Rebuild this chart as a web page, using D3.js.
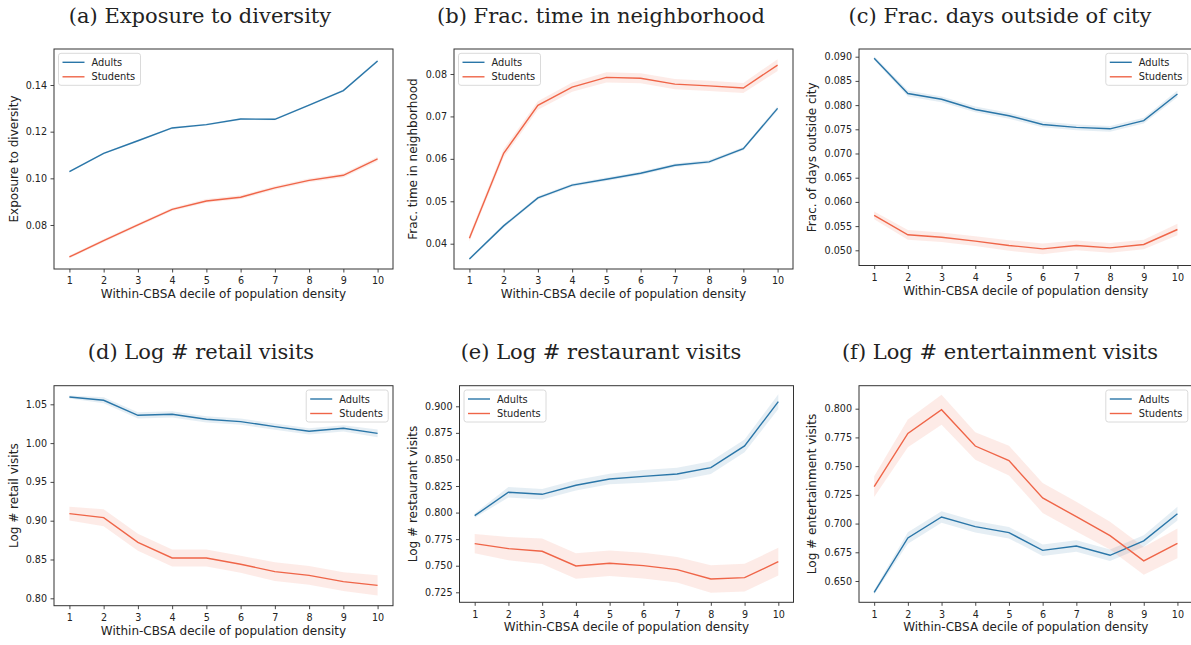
<!DOCTYPE html>
<html>
<head>
<meta charset="utf-8">
<script src="https://cdn.jsdelivr.net/npm/d3@7"></script>
<style>
  body { margin: 0; background: #fff; }
  svg text { fill: #222; }
  .tick text { font-family: "DejaVu Sans", sans-serif; font-size: 9.6px; fill: #222; }
  .tick line { stroke: #333; stroke-width: 0.9; }
  .frame { fill: none; stroke: #333; stroke-width: 1; }
  .axis-label { font-family: "DejaVu Sans", sans-serif; font-size: 12px; }
  .title { font-family: "DejaVu Serif", serif; font-size: 21px; }
  .legend text { font-family: "DejaVu Sans", sans-serif; font-size: 9.8px; }
</style>
</head>
<body>
<svg id="chart" width="1191" height="645"></svg>
<script>
const deciles = [1, 2, 3, 4, 5, 6, 7, 8, 9, 10];
const seriesNames = ["Adults", "Students"];

// (a) exposure to diversity
const diversityAdults = [0.1029, 0.1107, 0.1161, 0.1216, 0.1230, 0.1254, 0.1253, 0.1314, 0.1376, 0.1503];
const diversityStudents = [0.0663, 0.0733, 0.0801, 0.0867, 0.0903, 0.0919, 0.0959, 0.0991, 0.1013, 0.1083];
const diversityAdultsCi = [0.0004, 0.0004, 0.0004, 0.0004, 0.0004, 0.0004, 0.0004, 0.0004, 0.0005, 0.0006];
const diversityStudentsCi = [0.0006, 0.0007, 0.0007, 0.0007, 0.0008, 0.0008, 0.0008, 0.0008, 0.0009, 0.0010];
const diversityTicks = [0.08, 0.10, 0.12, 0.14];

// (b) frac. time in neighborhood
const neighborhoodAdults = [0.0364, 0.0442, 0.0508, 0.0538, 0.0552, 0.0566, 0.0585, 0.0593, 0.0624, 0.0719];
const neighborhoodStudents = [0.0413, 0.0613, 0.0726, 0.0769, 0.0792, 0.0790, 0.0776, 0.0772, 0.0767, 0.0821];
const neighborhoodAdultsCi = [0.0003, 0.0004, 0.0004, 0.0004, 0.0004, 0.0004, 0.0004, 0.0004, 0.0004, 0.0005];
const neighborhoodStudentsCi = [0.0008, 0.0010, 0.0010, 0.0011, 0.0012, 0.0012, 0.0012, 0.0012, 0.0012, 0.0014];
const neighborhoodTicks = [0.04, 0.05, 0.06, 0.07, 0.08];

// (c) frac. days outside of city
const outsideAdults = [0.0897, 0.0824, 0.0812, 0.0791, 0.0778, 0.0760, 0.0754, 0.0751, 0.0768, 0.0823];
const outsideStudents = [0.0572, 0.0532, 0.0527, 0.0519, 0.0510, 0.0503, 0.0510, 0.0505, 0.0512, 0.0543];
const outsideAdultsCi = [0.0004, 0.0006, 0.0006, 0.0006, 0.0006, 0.0006, 0.0006, 0.0006, 0.0006, 0.0007];
const outsideStudentsCi = [0.0008, 0.0010, 0.0010, 0.0010, 0.0011, 0.0011, 0.0010, 0.0010, 0.0010, 0.0012];
const outsideTicks = [0.050, 0.055, 0.060, 0.065, 0.070, 0.075, 0.080, 0.085, 0.090];

// (d) log # retail visits
const retailAdults = [1.0594, 1.0552, 1.0358, 1.0371, 1.0307, 1.0277, 1.0212, 1.0152, 1.0191, 1.0126];
const retailStudents = [0.9091, 0.9039, 0.8722, 0.8520, 0.8520, 0.8438, 0.8344, 0.8296, 0.8215, 0.8167];
const retailAdultsCi = [0.002, 0.004, 0.004, 0.004, 0.004, 0.004, 0.004, 0.004, 0.004, 0.005];
const retailStudentsCi = [0.009, 0.011, 0.011, 0.011, 0.011, 0.011, 0.012, 0.012, 0.012, 0.013];
const retailTicks = [0.80, 0.85, 0.90, 0.95, 1.00, 1.05];

// (e) log # restaurant visits
const restaurantAdults = [0.7971, 0.8191, 0.8172, 0.8257, 0.8316, 0.8341, 0.8363, 0.8423, 0.8627, 0.9044];
const restaurantStudents = [0.7708, 0.7661, 0.7636, 0.7498, 0.7523, 0.7501, 0.7463, 0.7375, 0.7388, 0.7538];
const restaurantAdultsCi = [0.002, 0.005, 0.005, 0.005, 0.005, 0.006, 0.006, 0.006, 0.006, 0.007];
const restaurantStudentsCi = [0.009, 0.011, 0.012, 0.012, 0.012, 0.012, 0.012, 0.013, 0.013, 0.013];
const restaurantTicks = [0.725, 0.750, 0.775, 0.800, 0.825, 0.850, 0.875, 0.900];

// (f) log # entertainment visits
const entertainmentAdults = [0.6402, 0.6875, 0.7057, 0.6973, 0.6921, 0.6767, 0.6805, 0.6724, 0.6849, 0.7086];
const entertainmentStudents = [0.7321, 0.7785, 0.7991, 0.7675, 0.7548, 0.7223, 0.7060, 0.6895, 0.6675, 0.6828];
const entertainmentAdultsCi = [0.002, 0.005, 0.005, 0.005, 0.005, 0.005, 0.005, 0.005, 0.005, 0.006];
const entertainmentStudentsCi = [0.009, 0.012, 0.013, 0.012, 0.013, 0.013, 0.013, 0.012, 0.012, 0.013];
const entertainmentTicks = [0.650, 0.675, 0.700, 0.725, 0.750, 0.775, 0.800];

const colors = { Adults: "#2a76a8", Students: "#ef6548" };

const panels = [
  { title: "(a) Exposure to diversity", ylabel: "Exposure to diversity",
    values: [diversityAdults, diversityStudents], ci: [diversityAdultsCi, diversityStudentsCi],
    ticks: diversityTicks, fmt: ".2f", yDomain: [0.06114, 0.15543],
    left: 54, right: 393, top: 49, bottom: 269, legend: "left",
    titleX: 200, titleY: 23, ylabelX: 18 },
  { title: "(b) Frac. time in neighborhood", ylabel: "Frac. time in neighborhood",
    values: [neighborhoodAdults, neighborhoodStudents], ci: [neighborhoodAdultsCi, neighborhoodStudentsCi],
    ticks: neighborhoodTicks, fmt: ".2f", yDomain: [0.03404, 0.08589],
    left: 454, right: 793, top: 49, bottom: 269, legend: "left",
    titleX: 601, titleY: 23, ylabelX: 416.5 },
  { title: "(c) Frac. days outside of city", ylabel: "Frac. of days outside city",
    values: [outsideAdults, outsideStudents], ci: [outsideAdultsCi, outsideStudentsCi],
    ticks: outsideTicks, fmt: ".3f", yDomain: [0.04686, 0.09159],
    left: 859, right: 1192.6, top: 49, bottom: 265.5, legend: "right",
    titleX: 1000, titleY: 23, ylabelX: 816 },
  { title: "(d) Log # retail visits", ylabel: "Log # retail visits",
    values: [retailAdults, retailStudents], ci: [retailAdultsCi, retailStudentsCi],
    ticks: retailTicks, fmt: ".2f", yDomain: [0.79046, 1.07397],
    left: 54, right: 393, top: 385.7, bottom: 605.7, legend: "right",
    titleX: 201, titleY: 359, ylabelX: 17.5 },
  { title: "(e) Log # restaurant visits", ylabel: "Log # restaurant visits",
    values: [restaurantAdults, restaurantStudents], ci: [restaurantAdultsCi, restaurantStudentsCi],
    ticks: restaurantTicks, fmt: ".3f", yDomain: [0.71559, 0.91938],
    left: 459.5, right: 793.5, top: 385.7, bottom: 602.3, legend: "left",
    titleX: 601, titleY: 359, ylabelX: 416.5 },
  { title: "(f) Log # entertainment visits", ylabel: "Log # entertainment visits",
    values: [entertainmentAdults, entertainmentStudents], ci: [entertainmentAdultsCi, entertainmentStudentsCi],
    ticks: entertainmentTicks, fmt: ".3f", yDomain: [0.63146, 0.82002],
    left: 859, right: 1192.6, top: 385.7, bottom: 602.3, legend: "right",
    titleX: 1000, titleY: 359, ylabelX: 815.5 }
];

const svg = d3.select("#chart");

panels.forEach(p => {
  const x = d3.scaleLinear().domain([0.55, 10.45]).range([p.left, p.right]);
  const y = d3.scaleLinear().domain(p.yDomain).range([p.bottom, p.top]);
  const g = svg.append("g");

  // confidence bands, then lines
  seriesNames.forEach((name, si) => {
    const pts = deciles.map((d, i) => ({ d: d, v: p.values[si][i], e: p.ci[si][i] }));
    g.append("path")
      .datum(pts)
      .attr("fill", colors[name])
      .attr("fill-opacity", name === "Adults" ? 0.12 : 0.13)
      .attr("d", d3.area().x(d => x(d.d)).y0(d => y(d.v - d.e)).y1(d => y(d.v + d.e)));
  });
  seriesNames.forEach((name, si) => {
    g.append("path")
      .datum(deciles.map((d, i) => [d, p.values[si][i]]))
      .attr("fill", "none")
      .attr("stroke", colors[name])
      .attr("stroke-width", 1.4)
      .attr("d", d3.line().x(d => x(d[0])).y(d => y(d[1])));
  });

  // axes
  g.append("g")
    .attr("transform", `translate(0, ${p.bottom})`)
    .call(d3.axisBottom(x).tickValues(deciles).tickFormat(d3.format("d")).tickSize(3.5).tickPadding(5))
    .call(a => a.select(".domain").remove());

  g.append("g")
    .attr("transform", `translate(${p.left}, 0)`)
    .call(d3.axisLeft(y).tickValues(p.ticks).tickFormat(d3.format(p.fmt)).tickSize(3.5).tickPadding(3.5))
    .call(a => a.select(".domain").remove());

  g.append("rect")
    .attr("class", "frame")
    .attr("x", p.left).attr("y", p.top)
    .attr("width", p.right - p.left).attr("height", p.bottom - p.top);

  // labels
  g.append("text")
    .attr("class", "axis-label")
    .attr("x", (p.left + p.right) / 2 > 1100 ? 1025 : (p.left + p.right) / 2)
    .attr("y", p.bottom + 29)
    .attr("text-anchor", "middle")
    .text("Within-CBSA decile of population density");

  g.append("text")
    .attr("class", "axis-label")
    .attr("transform", `translate(${p.ylabelX}, ${(p.top + p.bottom) / 2}) rotate(-90)`)
    .attr("text-anchor", "middle")
    .text(p.ylabel);

  g.append("text")
    .attr("class", "title")
    .attr("x", p.titleX)
    .attr("y", p.titleY)
    .attr("text-anchor", "middle")
    .text(p.title);

  // legend
  const lw = 82, lh = 32;
  const lx = p.legend === "left" ? p.left + 4.5 : Math.min(p.right, 1192.6) - 4.8 - lw;
  const legend = g.append("g")
    .attr("class", "legend")
    .attr("transform", `translate(${lx}, ${p.top + 4.3})`);
  legend.append("rect")
    .attr("width", lw).attr("height", lh)
    .attr("rx", 2.5)
    .attr("fill", "#fff").attr("fill-opacity", 0.8)
    .attr("stroke", "#d6d6d6").attr("stroke-width", 0.9);
  seriesNames.forEach((name, i) => {
    const row = legend.append("g").attr("transform", `translate(0, ${9 + i * 14.5})`);
    row.append("line")
      .attr("x1", 4).attr("x2", 26)
      .attr("stroke", colors[name]).attr("stroke-width", 1.4);
    row.append("text")
      .attr("x", 33)
      .attr("y", 3.5)
      .text(name);
  });
});
</script>
</body>
</html>
